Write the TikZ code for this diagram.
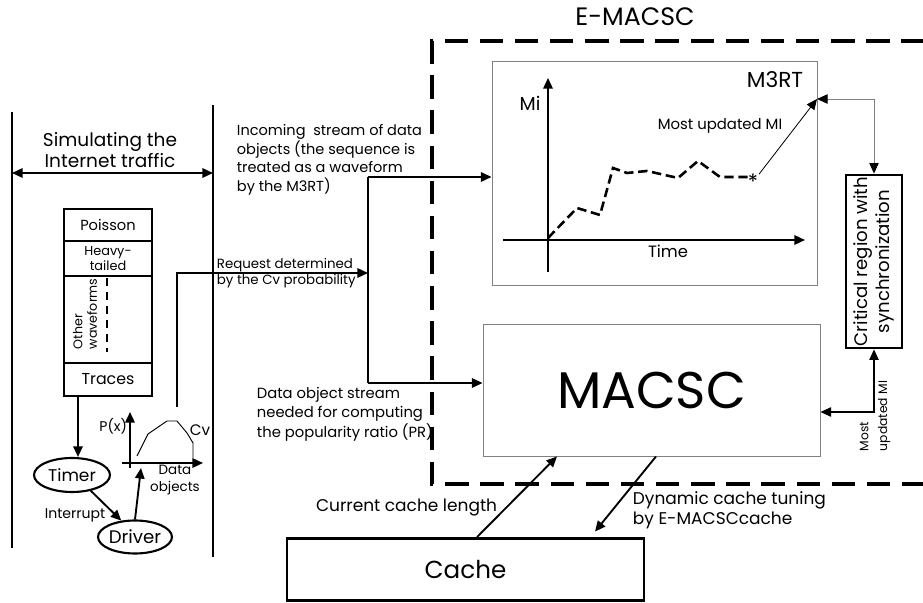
\documentclass[tikz,border=0pt]{standalone}
\usepackage{fontspec}
\setmainfont{Poppins}
\usetikzlibrary{arrows.meta,calc,shapes.geometric}
\begin{document}
\begin{tikzpicture}[x=0.3cm,y=0.3cm,line width=1.6pt,
  >={Triangle[length=9pt,width=8pt,color=black]},
  every node/.style={inner sep=0pt},
  txt/.style={font=\fontsize{12.4}{15.8}\selectfont,align=center},
  cell/.style={draw,minimum width=2.64cm,align=center},
  oval/.style={draw,ellipse,line width=1.8pt},
  plain/.style={draw=gray,line width=0.8pt}]
\useasboundingbox (0,0) rectangle (92.3,60.3);
\draw (1.2,49.1) -- (1.2,5.5);
\draw (21.3,49.8) -- (21.3,4.6);
\coordinate (lanel) at (1.2,43.0);
\coordinate (laner) at (21.3,43.0);
\draw[<->] (lanel) -- (laner);
\node[txt,font=\fontsize{15.8}{18}\selectfont] (sim) at (11.0,45.3) {Simulating the\\Internet traffic};
\node[cell,minimum height=0.96cm,font=\fontsize{12.5}{15}\selectfont] (poisson) at (10.8,37.8) {Poisson};
\node[cell,minimum height=1.05cm,font=\fontsize{11}{13}\selectfont] (heavy) at (10.8,34.45) {Heavy-\\tailed};
\node[cell,minimum height=2.61cm] (other) at (10.8,28.35) {};
\node[cell,minimum height=0.99cm,font=\fontsize{13.5}{16}\selectfont] (traces) at (10.8,22.35) {Traces};
\node[rotate=90,anchor=north west,align=left,font=\fontsize{10.8}{12.5}\selectfont] (otherlbl) at (7.2,25.3) {Other\\waveforms};
\draw[line width=2.5pt,dash pattern=on 7pt off 5pt] (10.7,32.5) -- (10.7,25.1);
\node[oval,minimum width=2.28cm,minimum height=1.02cm,font=\fontsize{14.5}{17}\selectfont] (timer) at (7.2,12.8) {Timer};
\node[oval,minimum width=2.07cm,minimum height=0.99cm,font=\fontsize{15.5}{18}\selectfont] (driver) at (13.5,6.6) {Driver};
\draw[->] ($(traces.south)+(-3.0,0)$) -- ($(timer.north)+(0.6,0)$);
\draw[->] (timer.-40) -- (driver.130);
\node[font=\fontsize{12}{14}\selectfont] (intr) at (7.5,8.8) {Interrupt};
\coordinate (ptip) at (14.1,13.5);
\draw[->] (driver.north) -- (ptip);
\draw[->] (13.0,13.5) -- (13.0,19.1);
\draw[->] (12.2,14.0) -- (20.3,14.0);
\draw[line width=0.8pt] (13.7,14.7) -- (14.8,16.9) -- (16.7,18.2) -- (17.7,18.2) -- (18.7,17.0) -- (19.3,16.0) -- (19.3,14.5);
\node[anchor=east,font=\fontsize{12}{14}\selectfont] (px) at (12.8,17.7) {P(x)};
\node[font=\fontsize{13}{15}\selectfont] (cv) at (20.0,17.3) {Cv};
\node[align=center,font=\fontsize{11.5}{14}\selectfont] (dobj) at (17.5,12.3) {Data\\objects};
\coordinate (cvtop) at (17.7,19.6);
\coordinate (split) at (36.8,33.0);
\draw[->] (cvtop) |- (split);
\node[anchor=west,align=left,font=\fontsize{11.4}{13.5}\selectfont] (req) at (21.6,33.0) {Request determined\\by the Cv probability};
\node[txt,align=left,anchor=west] (incoming) at (23.6,44.3) {Incoming\ \ stream of data\\objects (the sequence is\\treated as a waveform\\by the M3RT)};
\node[anchor=west,align=left,font=\fontsize{12.6}{16.5}\selectfont] (dostream) at (25.6,18.9) {Data object stream\\needed for computing\\the popularity ratio (PR)};
\coordinate (bustop) at (36.8,42.6);
\coordinate (busbot) at (36.8,22.0);
\draw (bustop) -- (busbot);
\draw[line width=3.8pt,dash pattern=on 20pt off 10pt] (96.0,56.2) -- (43.2,56.2) -- (43.2,11.9) -- (96.0,11.9);
\node[font=\fontsize{21.5}{25}\selectfont] (emacsc) at (63.5,58.6) {E-MACSC};
\node[plain,minimum width=9.75cm,minimum height=6.72cm] (m3rt) at (65.45,43.0) {};
\node[font=\fontsize{18.5}{20}\selectfont] (m3rtlbl) at (77.5,52.3) {M3RT};
\draw[->] (bustop) -- (bustop -| m3rt.west);
\draw[->] (54.8,33.1) -- (54.8,52.5);
\draw[->] (50.3,36.3) -- (80.5,36.3);
\node[font=\fontsize{16}{19}\selectfont] (mi) at (53.0,50.0) {Mi};
\node[font=\fontsize{14}{16}\selectfont] (time) at (66.8,35.2) {Time};
\draw[line width=2.2pt,dash pattern=on 8pt off 4pt] (54.8,36.5) -- (57.7,39.5) -- (60.0,38.8) -- (61.3,43.5) -- (62.7,43.0) -- (64.7,43.2) -- (67.8,42.5) -- (69.8,44.2) -- (72.0,42.6) -- (75.3,42.6);
\node[font=\fontsize{18}{18}\selectfont] (star) at (75.3,42.1) {*};
\coordinate (miout) at (81.7,50.4);
\draw[->,line width=0.7pt] (star) -- (miout);
\node[font=\fontsize{12.7}{14}\selectfont] (mostlbl) at (72.0,47.7) {Most updated MI};
\node[draw,line width=2.4pt,minimum width=1.68cm,minimum height=5.19cm] (crit) at (87.4,34.15) {};
\node[rotate=90,align=center,font=\fontsize{15.5}{18.5}\selectfont] (critlbl) at (crit) {Critical region with\\synchronization};
\draw[<->,gray,line width=0.8pt] (miout) -| (crit.north);
\node[plain,minimum width=10.11cm,minimum height=3.96cm,font=\fontsize{44}{50}\selectfont] (macsc) at (65.15,21.3) {MACSC};
\draw[->] (busbot) -- (busbot -| macsc.west);
\coordinate (mupd) at (87.7,19.1);
\draw[<->,line width=1pt] (mupd -| macsc.east) -| (crit.south);
\node[rotate=90,anchor=west,align=left,font=\fontsize{10.5}{16}\selectfont] (mostlbl2) at (87.5,15.1) {Most\\updated MI};
\node[draw,line width=2.4pt,minimum width=10.71cm,minimum height=1.86cm,font=\fontsize{21}{24}\selectfont] (cache) at (46.55,3.35) {Cache};
\draw[->] ($(cache.north)+(1.15,0)$) -- ($(macsc.south)+(-9.45,0)$);
\draw[->] ($(macsc.south)+(0.45,0)$) -- ($(cache.north)+(12.95,0.55)$);
\node[anchor=east,font=\fontsize{14.5}{16}\selectfont] (curlbl) at (49.8,9.5) {Current cache length};
\node[anchor=west,align=left,font=\fontsize{14.5}{17}\selectfont] (dynlbl) at (63.2,9.3) {Dynamic cache tuning\\by E-MACSCcache};
\end{tikzpicture}
\end{document}
